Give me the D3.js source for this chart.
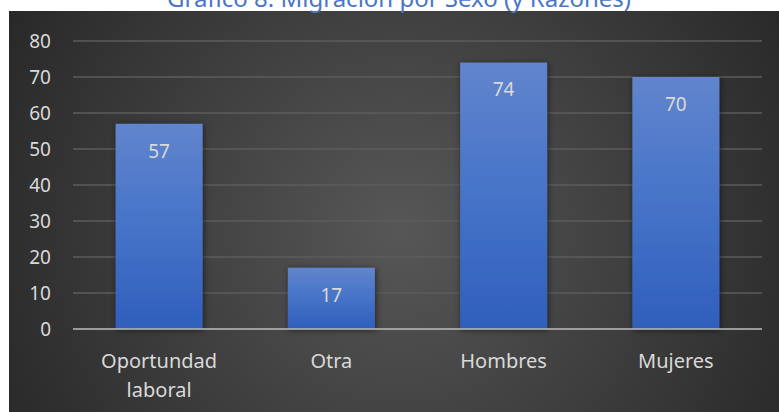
<!DOCTYPE html>
<html>
<head>
<meta charset="utf-8">
<script src="https://cdn.jsdelivr.net/npm/d3@7"></script>
<style>
	html, body { margin: 0; padding: 0; background: #fff; }
	svg { display: block; }
</style>
</head>
<body>
<script>
// chart data
var categories = ['Oportundad laboral', 'Otra', 'Hombres', 'Mujeres'];
var values = [57, 17, 74, 70];
var yTicks = [0, 10, 20, 30, 40, 50, 60, 70, 80];
var title = 'Gráfico 8. Migración por Sexo (y Razones)';

var W = 779, H = 412;
var panel = {x: 9, y: 11};
var plot = {left: 73, right: 762, top: 41, bottom: 329};
var font = '"Noto Sans", "Open Sans", sans-serif';

var svg = d3.select('body').append('svg')
	.attr('width', W)
	.attr('height', H);

var defs = svg.append('defs');

// background radial gradient
var bg = defs.append('radialGradient')
	.attr('id', 'bg-grad')
	.attr('gradientUnits', 'userSpaceOnUse')
	.attr('cx', 400).attr('cy', 230).attr('r', 470);
bg.append('stop').attr('offset', '0%').attr('stop-color', '#575757');
bg.append('stop').attr('offset', '100%').attr('stop-color', '#262626');

// bar gradient
var bar = defs.append('linearGradient')
	.attr('id', 'bar-grad')
	.attr('x1', 0).attr('y1', 0).attr('x2', 0).attr('y2', 1);
bar.append('stop').attr('offset', '0%').attr('stop-color', '#6185cd');
bar.append('stop').attr('offset', '50%').attr('stop-color', '#4673c8');
bar.append('stop').attr('offset', '100%').attr('stop-color', '#2f5fbc');

var shadow = defs.append('filter')
	.attr('id', 'shadow')
	.attr('x', '-20%').attr('y', '-20%').attr('width', '140%').attr('height', '140%');
shadow.append('feDropShadow')
	.attr('dx', 1).attr('dy', 1)
	.attr('stdDeviation', 3)
	.attr('flood-color', '#000')
	.attr('flood-opacity', 0.55);

svg.append('rect')
	.attr('x', panel.x).attr('y', panel.y)
	.attr('width', W - panel.x).attr('height', H - panel.y)
	.attr('fill', 'url(#bg-grad)');

// title, mostly cut off at the top as in the source image
svg.append('text')
	.attr('x', 399).attr('y', 7)
	.attr('text-anchor', 'middle')
	.attr('font-family', font)
	.attr('font-size', 24)
	.attr('fill', '#4a76c6')
	.text(title);

var x = d3.scaleBand()
	.domain(categories)
	.range([plot.left, plot.right])
	.paddingInner(0.495)
	.paddingOuter(0.2475);

var y = d3.scaleLinear()
	.domain([0, 80])
	.range([plot.bottom, plot.top]);

// gridlines
svg.append('g')
	.selectAll('line')
	.data(yTicks.slice(1))
	.join('line')
	.attr('x1', plot.left).attr('x2', plot.right)
	.attr('y1', d => y(d)).attr('y2', d => y(d))
	.attr('stroke', '#5c5c5c')
	.attr('stroke-width', 1.5);

// y tick labels
svg.append('g')
	.selectAll('text')
	.data(yTicks)
	.join('text')
	.attr('x', 51)
	.attr('y', d => y(d))
	.attr('dy', '0.36em')
	.attr('text-anchor', 'end')
	.attr('font-family', font)
	.attr('font-size', 19)
	.attr('fill', '#d9d9d9')
	.text(d => d);

// bars
svg.append('g')
	.selectAll('rect')
	.data(values)
	.join('rect')
	.attr('x', (d, i) => x(categories[i]))
	.attr('y', d => y(d))
	.attr('width', x.bandwidth())
	.attr('height', d => y(0) - y(d))
	.attr('fill', 'url(#bar-grad)')
	.attr('filter', 'url(#shadow)');

// axis line
svg.append('line')
	.attr('x1', plot.left).attr('x2', plot.right)
	.attr('y1', y(0)).attr('y2', y(0))
	.attr('stroke', '#b5b5b5')
	.attr('stroke-opacity', 0.8)
	.attr('stroke-width', 2);

// value labels
svg.append('g')
	.selectAll('text')
	.data(values)
	.join('text')
	.attr('x', (d, i) => x(categories[i]) + x.bandwidth() / 2)
	.attr('y', d => y(d) + 27)
	.attr('dy', '0.36em')
	.attr('text-anchor', 'middle')
	.attr('font-family', font)
	.attr('font-size', 19)
	.attr('fill', '#d9d9d9')
	.text(d => d);

// category labels, wrapped on spaces for long names
var cat = svg.append('g')
	.selectAll('text')
	.data(categories)
	.join('text')
	.attr('x', d => x(d) + x.bandwidth() / 2)
	.attr('y', 368)
	.attr('text-anchor', 'middle')
	.attr('font-family', font)
	.attr('font-size', 20)
	.attr('fill', '#d9d9d9');

cat.each(function(d){
	var lines = d.length > 12 ? d.split(' ') : [d];
	d3.select(this).selectAll('tspan')
		.data(lines)
		.join('tspan')
		.attr('x', d3.select(this).attr('x'))
		.attr('dy', (l, i) => i ? 29 : 0)
		.text(l => l);
});
</script>
</body>
</html>
